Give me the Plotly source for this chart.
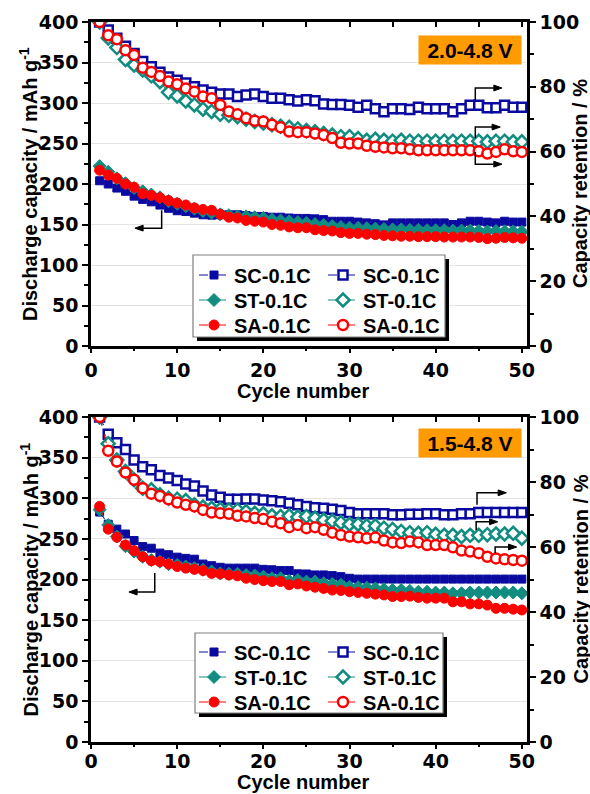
import plotly.graph_objects as go

cycles = list(range(1, 51))

# ---- Top panel (2.0-4.8 V): discharge capacity (mAh/g) ----
sc_top_cap = [204, 200, 195, 191, 185, 181, 178, 174, 170, 167, 166, 164, 162, 161.5, 162, 162, 162, 161, 160, 160,
              159, 159, 158, 157.5, 157.5, 157, 156, 154, 154, 154, 153, 152, 151, 149.5, 152, 152, 152, 152, 152, 152,
              152, 150, 152, 154, 154, 153, 152, 154, 153, 153]
st_top_cap = [222, 215, 207, 201, 195, 191, 187, 183.5, 179, 175.5, 172.5, 169.5, 166.5, 164.5, 162.5, 161.5, 160, 160, 159, 158,
              156, 155, 154, 153, 152, 150.5, 149.5, 148, 147, 146, 146, 145.5, 145, 144.5, 144, 144, 143.5, 143.5, 143, 143,
              143, 142.5, 142.5, 142.5, 142, 141.5, 142, 141.5, 141.5, 141]
sa_top_cap = [217, 211, 207, 200, 196, 188, 186, 183, 179.5, 176.5, 174, 170.5, 168.5, 167.5, 162.5, 159, 158, 155, 154, 153,
              150, 149, 147, 146, 146, 143.5, 142.5, 142, 140, 139, 139, 138, 137.5, 136.5, 136, 135.5, 135.5, 135, 135, 135,
              134.5, 134.5, 134.5, 134.5, 134, 132.5, 133, 134, 133.5, 133]
# ---- Top panel: capacity retention (%) ----
sc_top_ret = [100, 97.5, 95, 92.5, 90.3, 87.8, 86.2, 84.5, 83, 82, 81.2, 80, 79, 78.3, 77.8, 77.8, 77, 77.5, 77.8, 77,
              76.5, 76.5, 76, 75.6, 76, 75.7, 74.7, 74.5, 74.5, 74.3, 73.7, 74.3, 73.2, 72.3, 73.2, 73.2, 73, 73.7, 73.2, 73.2,
              73.2, 72.3, 73.2, 74.3, 74.3, 73.5, 73.5, 74.3, 73.7, 73.7]
st_top_ret = [100, 95.1, 92.1, 88.4, 86.7, 85.2, 83.4, 81.6, 78.3, 77.2, 75.6, 74.4, 73.1, 72.4, 71.5, 71.2, 70.8, 70.0, 69.3, 68.8,
              68.3, 67.8, 67.5, 67.0, 66.5, 66.1, 65.6, 65.1, 64.6, 64.6, 64.0, 63.5, 63.8, 63.5, 63.2, 63.5, 63.2, 63.2, 63.2, 63.2,
              63.2, 63.2, 63.2, 63.2, 63.2, 63.0, 63.2, 63.2, 63.0, 63.0]
sa_top_ret = [100, 95.9, 94.7, 91.3, 89.8, 85.9, 84.6, 83.3, 81.6, 80.8, 79.5, 78.5, 77, 76.5, 74.4, 72.4, 71.5, 70.3, 69.5, 69.3,
              68.3, 67.5, 66.2, 66.0, 66.0, 65.6, 65.1, 64.2, 62.7, 62.5, 62.5, 61.8, 61.5, 61.3, 61.0, 61.0, 60.7, 60.4, 60.4, 60.4,
              60.4, 60.4, 60.4, 60.4, 60.1, 59.4, 59.9, 60.7, 60.1, 59.9]

# ---- Bottom panel (1.5-4.8 V): discharge capacity (mAh/g) ----
sc_bot_cap = [283, 268, 262, 256, 248, 240.5, 238.5, 232.5, 230.5, 227.5, 226, 225, 219, 217, 215, 214, 214, 214, 214, 212.5,
              212, 211, 211, 207, 206.8, 205.6, 205.6, 204.8, 203.5, 201.5, 200.5, 200.5, 200.5, 200.5, 200.5, 200.5, 200.5, 200.5, 200.5, 200.5,
              200.5, 200.5, 200.5, 200.5, 200.5, 200.5, 200.5, 200.5, 200.5, 200.5]
st_bot_cap = [286, 267, 253, 241, 234.5, 228, 224, 222, 219, 218, 216, 214, 212, 210, 207.5, 207, 207, 205.5, 205, 203.5,
              201.5, 201.5, 198.5, 199.5, 197.5, 197.5, 195.5, 194.5, 193.5, 191, 190.5, 190, 189, 188, 187, 187, 186, 185, 185, 184,
              184, 183, 183, 184, 184, 184, 184, 184, 184, 183]
sa_bot_cap = [290, 262, 252, 242.5, 235.5, 228, 223, 222, 219, 216, 214, 212.5, 211, 207.5, 207, 205.5, 204.5, 201.5, 200, 198.5,
              197.5, 197.5, 193.5, 194.5, 192, 190.5, 189, 187, 186.5, 185, 184, 183, 182, 181, 179, 179, 179.5, 178, 177, 177,
              177, 172.5, 172.5, 170, 170, 168.5, 164.5, 164.5, 163.5, 162.5]
# ---- Bottom panel: capacity retention (%) ----
sc_bot_ret = [100, 94.7, 92.1, 90, 86.8, 84.7, 83.8, 82, 81.2, 80.5, 79.4, 78.8, 77.2, 76, 75.3, 74.7, 74.7, 74.8, 74.8, 74.5,
              74.2, 73.9, 73.5, 73, 72.5, 72.1, 71.9, 71.6, 71.2, 70.6, 70.2, 70.2, 70.2, 70.2, 69.9, 69.9, 70.1, 70.1, 70.2, 70.2,
              69.9, 69.9, 70.2, 70.2, 70.6, 70.6, 70.6, 70.6, 70.6, 70.6]
st_bot_ret = [100, 91.8, 86.8, 83.2, 80.7, 78.1, 77.6, 76.1, 75, 74.7, 74.3, 73, 72.3, 71.9, 71.6, 71.4, 71.4, 70.9, 70.4, 70.2,
              69.6, 69.4, 69.6, 69.2, 69.4, 68.9, 68.3, 68.0, 67.5, 67.0, 67.0, 66.5, 66.5, 65.8, 65.4, 64.8, 64.4, 64.2, 64.4, 63.9,
              63.6, 63.6, 63.2, 63.6, 63.6, 63.8, 64.0, 64.0, 64.2, 62.7]
sa_bot_ret = [100, 89.6, 86.3, 82.9, 80.7, 78.1, 76.4, 75.7, 74.7, 73.7, 73, 72.5, 71.4, 70.6, 70.4, 70.2, 69.6, 69.4, 68.9, 68.6,
              67.8, 67.3, 66.1, 66.8, 65.8, 66.1, 65.3, 64.4, 63.7, 63.2, 63.0, 62.7, 62.9, 62.0, 61.4, 61.2, 61.7, 61.4, 60.6, 60.6,
              60.6, 59.9, 58.9, 58.6, 58.1, 57.0, 56.5, 56.2, 56.0, 55.8]

series_names = ["SC-0.1C", "ST-0.1C", "SA-0.1C"]
panel_labels = ["2.0-4.8 V", "1.5-4.8 V"]
x_title = "Cycle number"
y_left_title = "Discharge capacity / mAh g<sup>-1</sup>"
y_right_title = "Capacity retention / %"

BLUE = "#0A0AA0"
TEAL = "#108C80"
RED = "#FF0000"
colors = [BLUE, TEAL, RED]
filled_sym = ["square", "diamond", "circle"]
filled_size = [8, 10, 10]
open_size = [9, 10, 10]
FONT = "Arial"
TICKFONT = "DejaVu Sans"

W, H = 590, 794
ML, MR, MT, MB = 91, 63, 22, 52
PW, PH = W - ML - MR, H - MT - MB


def px(xp):
    return (xp - ML) / PW


def py(yp):
    return (H - MB - yp) / PH


fig = go.Figure()

panels = [
    dict(cap=[sc_top_cap, st_top_cap, sa_top_cap], ret=[sc_top_ret, st_top_ret, sa_top_ret],
         xa="x", ya="y", ya2="y2", rows=[275, 300, 325]),
    dict(cap=[sc_bot_cap, st_bot_cap, sa_bot_cap], ret=[sc_bot_ret, st_bot_ret, sa_bot_ret],
         xa="x3", ya="y3", ya2="y4", rows=[652, 677, 702]),
]

legfont = dict(family=FONT, size=20, color="black", weight="bold")
legend_layouts = {}
COL_X = [194, 323]
k = 0
for p in panels:
    for col, (key, yax) in enumerate([("cap", p["ya"]), ("ret", p["ya2"])]):
        for i in range(3):
            k += 1
            lname = "legend" if k == 1 else f"legend{k}"
            legend_layouts[lname] = dict(x=px(COL_X[col]), y=py(p["rows"][i]), xanchor="left", yanchor="middle",
                                         bgcolor="rgba(0,0,0,0)", borderwidth=0, font=legfont, itemwidth=30)
            if col == 0:
                mk = dict(symbol=filled_sym[i], size=filled_size[i], color=colors[i],
                          line=dict(color=colors[i], width=1))
            else:
                mk = dict(symbol=filled_sym[i], size=open_size[i], color="white",
                          line=dict(color=colors[i], width=2.5))
            fig.add_trace(go.Scatter(
                x=cycles, y=p[key][i], name=series_names[i], mode="lines+markers",
                xaxis=p["xa"], yaxis=yax, legend=lname,
                line=dict(color=colors[i], width=1, dash="dash"), marker=mk))

tickfont = dict(family=TICKFONT, size=19, color="black", weight="bold")
titlefont = dict(family=FONT, size=20, color="black", weight="bold")
XR = [0, 50.6]

top_dom = [1 - (346 - MT) / PH, 1]
bot_dom = [0, (H - MB - 417) / PH]


def xaxis_main(anchor, standoff):
    # carries the labels and the axis line; ticks are drawn by an overlaid axis
    return dict(domain=[0, 1], anchor=anchor, range=XR, showgrid=False, zeroline=False, automargin=False,
                showline=True, linecolor="black", linewidth=2.5, ticks="", dtick=10, tick0=0,
                ticklabelstandoff=standoff, tickfont=tickfont)


def xaxis_ticks(over, anchor, side, direction, ln):
    return dict(overlaying=over, anchor=anchor, side=side, range=XR, showgrid=False, zeroline=False,
                automargin=False, showline=(side == "top"), linecolor="black", linewidth=2.5,
                showticklabels=False, ticks=direction, ticklen=ln, tickwidth=2, tickcolor="black",
                dtick=10 if side == "bottom" else 5, tick0=0,
                minor=dict(dtick=5, ticks=direction, ticklen=4, tickwidth=2, tickcolor="black")
                if side == "bottom" else None)


def yaxis_left(dom, anchor):
    return dict(domain=dom, anchor=anchor, range=[0, 400], showgrid=True, gridcolor="#E3E3E3", gridwidth=1,
                zeroline=False, automargin=False, showline=True, linecolor="black", linewidth=2.5,
                ticks="outside", ticklen=6, tickwidth=2, tickcolor="black", dtick=50, tick0=0,
                minor=dict(dtick=25, ticks="outside", ticklen=4, tickwidth=2, tickcolor="black", showgrid=False),
                tickfont=tickfont)


def yaxis_right(over, anchor):
    return dict(overlaying=over, anchor=anchor, side="right", range=[0, 100], showgrid=False, zeroline=False,
                automargin=False, showline=True, linecolor="black", linewidth=2.5,
                ticks="outside", ticklen=6, tickwidth=2, tickcolor="black", dtick=20, tick0=0,
                minor=dict(dtick=10, ticks="outside", ticklen=4, tickwidth=2, tickcolor="black"),
                tickfont=tickfont)


shapes = []
annotations = []

# legend frames (shadow + box), pixel boxes
for (x0, y0, x1, y1) in [(193, 255, 445, 337), (195, 633, 443, 713)]:
    shapes.append(dict(type="rect", xref="paper", yref="paper", x0=px(x0 + 4), x1=px(x1 + 4),
                       y0=py(y1 + 4), y1=py(y0 + 4), fillcolor="black", line=dict(width=0), layer="above"))
    shapes.append(dict(type="rect", xref="paper", yref="paper", x0=px(x0), x1=px(x1),
                       y0=py(y1), y1=py(y0), fillcolor="white", line=dict(color="#7F7F7F", width=1.2), layer="above"))

# arrows: (vertical x, y_start, y_corner, x_tip) in data units
arrows_top = [(8.2, 167.7, 145.5, 5.1), (44.6, 303.7, 318.5, 47.7), (44.6, 256.7, 270.3, 47.5), (44.6, 239.4, 224.5, 47.7)]
arrows_bot = [(7.4, 208, 184.6, 4.4), (44.8, 291.9, 306.7, 48.2), (44.7, 261, 271, 47.2), (46.9, 232.7, 240, 49.4)]
HEAD_L, HEAD_W = 0.95, 3.6   # arrowhead length (cycles) and half width (mAh/g units)
for arrs, xr, yr in [(arrows_top, "x", "y"), (arrows_bot, "x3", "y3")]:
    for (xv, ys, yc, xt) in arrs:
        d = 1 if xt > xv else -1
        xb = xt - d * HEAD_L
        shapes.append(dict(type="path", xref=xr, yref=yr,
                           path=f"M{xv},{ys} L{xv},{yc} L{xb},{yc}",
                           line=dict(color="black", width=1.5)))
        shapes.append(dict(type="path", xref=xr, yref=yr,
                           path=f"M{xt},{yc} L{xb},{yc + HEAD_W} L{xb},{yc - HEAD_W} Z",
                           fillcolor="black", line=dict(color="black", width=1)))

# voltage label boxes
for lab, xr, yr, yc in [(panel_labels[0], "x", "y", 365.5), (panel_labels[1], "x3", "y3", 368.3)]:
    annotations.append(dict(x=44.0, y=yc, xref=xr, yref=yr, text=lab, showarrow=False,
                            font=dict(family=FONT, size=21, color="black", weight="bold"),
                            bgcolor="#FF9A00", width=102, height=28, borderpad=0,
                            xanchor="center", yanchor="middle"))

# axis titles (placed in pixel positions of the reference)
for (ytop, ybot, yxt) in [(22, 346, 391), (417, 742, 782)]:
    annotations.append(dict(x=px(303), y=py(yxt), xref="paper", yref="paper", text=x_title, showarrow=False,
                            font=titlefont, xanchor="center", yanchor="middle"))
    annotations.append(dict(x=px(29), y=py((ytop + ybot) / 2), xref="paper", yref="paper", text=y_left_title,
                            showarrow=False, font=titlefont, textangle=-90, xanchor="center", yanchor="middle"))
    annotations.append(dict(x=px(580), y=py((ytop + ybot) / 2), xref="paper", yref="paper", text=y_right_title,
                            showarrow=False, font=titlefont, textangle=-90, xanchor="center", yanchor="middle"))

fig.update_layout(
    width=W, height=H, margin=dict(l=ML, r=MR, t=MT, b=MB, autoexpand=False),
    paper_bgcolor="white", plot_bgcolor="white",
    xaxis=xaxis_main("y", 5),
    xaxis2=xaxis_ticks("x", "y", "top", "inside", 5),
    xaxis5=xaxis_ticks("x", "y", "bottom", "outside", 6),
    yaxis=yaxis_left(top_dom, "x"),
    yaxis2=yaxis_right("y", "x"),
    xaxis3=xaxis_main("y3", 0),
    xaxis4=xaxis_ticks("x3", "y3", "top", "inside", 5),
    xaxis6=xaxis_ticks("x3", "y3", "bottom", "outside", 6),
    yaxis3=yaxis_left(bot_dom, "x3"),
    yaxis4=yaxis_right("y3", "x3"),
    shapes=shapes, annotations=annotations,
    showlegend=True,
    **legend_layouts,
)
# empty helper traces so the overlaid tick-only x axes are drawn
for xa, ya in [("x2", "y"), ("x5", "y"), ("x4", "y3"), ("x6", "y3")]:
    fig.add_trace(go.Scatter(x=[None], y=[None], xaxis=xa, yaxis=ya, showlegend=False, hoverinfo="skip"))

fig.write_html("out.html")
